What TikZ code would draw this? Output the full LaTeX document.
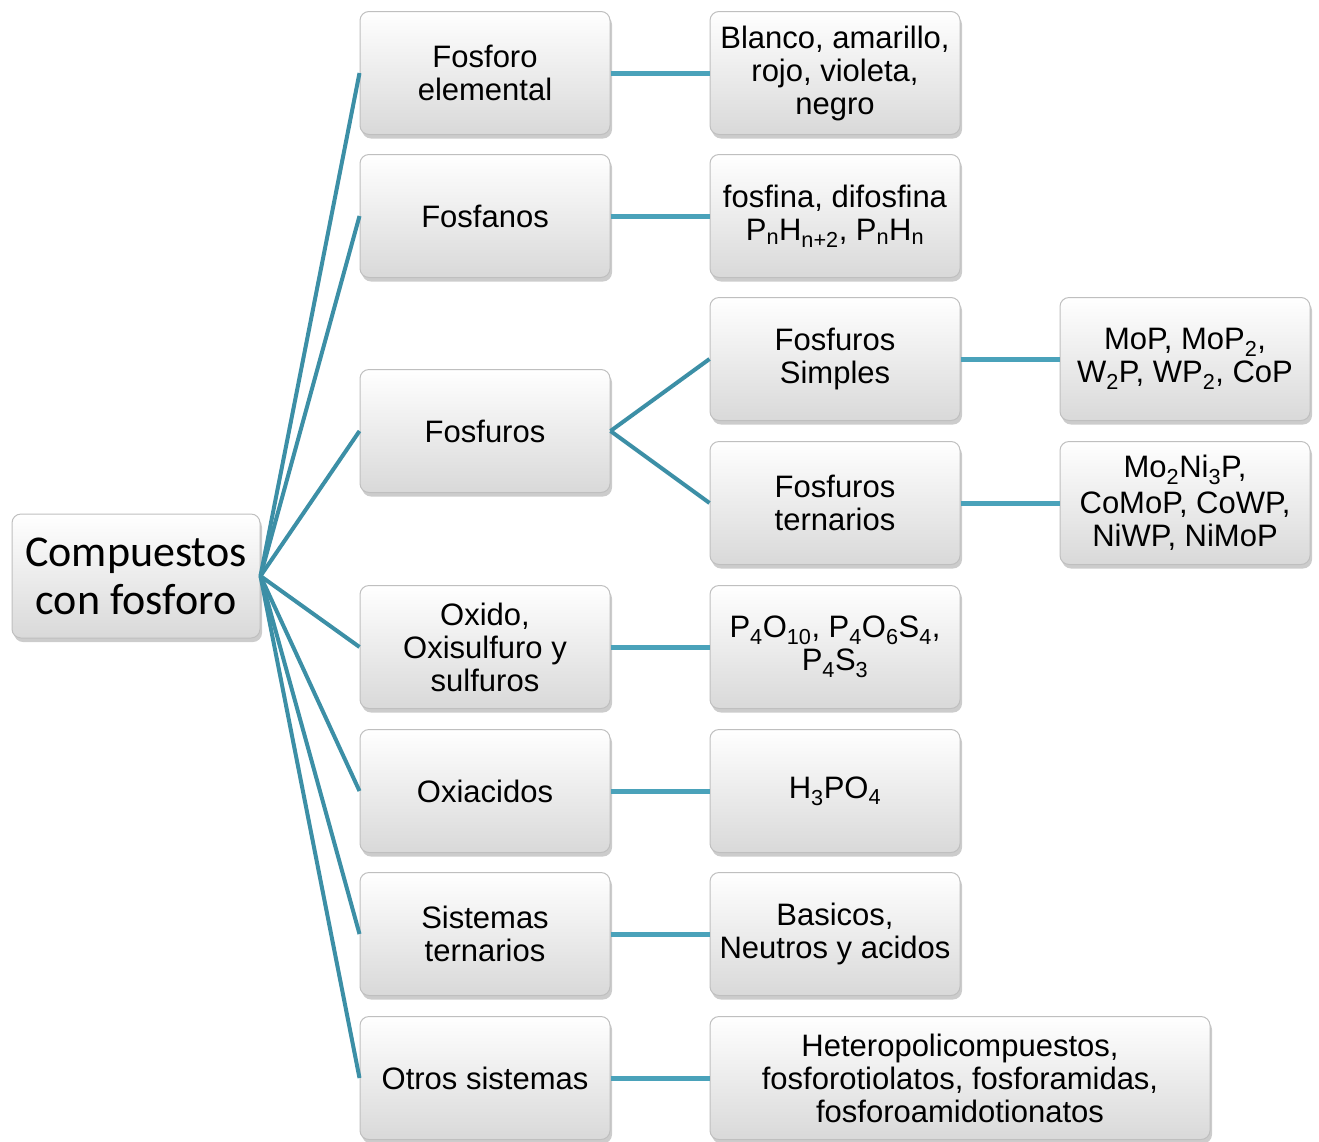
\documentclass[tikz,border=0pt]{standalone}
\usepackage{fontspec}
\setmainfont{Liberation Sans}
\newfontfamily\rootfont{Carlito}
\usetikzlibrary{shadows}
\definecolor{linkteal}{HTML}{4AA2BA}
\definecolor{rootteal}{HTML}{3C8FA6}
\definecolor{boxedge}{HTML}{BFBFBF}
\tikzset{
  box/.style={draw=boxedge, line width=1pt, rounded corners=9pt,
    top color=white, bottom color=gray!30,
    minimum width=250pt, minimum height=123pt, inner sep=2pt,
    align=center, font=\fontsize{31}{33}\selectfont,
    drop shadow={shadow xshift=2pt, shadow yshift=-4pt, opacity=0.4}},
  link/.style={draw=linkteal, line width=5pt},
  rootlink/.style={draw=rootteal, line width=4pt}
}
\begin{document}
\begin{tikzpicture}[x=1pt,y=-1pt]
  \useasboundingbox (0,0) rectangle (1319,1141);
  % root
  \node[box, minimum width=248pt, minimum height=124pt,
        font=\rootfont\fontsize{44}{48}\selectfont] (root) at (136,576) {Compuestos\\con fosforo};
  % second column
  \node[box] (elem) at (485,73) {Fosforo\\elemental};
  \node[box] (fosfa) at (485,216) {Fosfanos};
  \node[box] (fosfu) at (485,431) {Fosfuros};
  \node[box] (oxido) at (485,647) {Oxido,\\Oxisulfuro y\\sulfuros};
  \node[box] (oxiac) at (485,791) {Oxiacidos};
  \node[box] (sister) at (485,934) {Sistemas\\ternarios};
  \node[box] (otros) at (485,1078) {Otros sistemas};
  % third column
  \node[box] (alotr) at (835,73) {Blanco, amarillo,\\rojo, violeta,\\negro};
  \node[box] (fosfi) at (835,216) {fosfina, difosfina\\P\textsubscript{n}H\textsubscript{n+2}, P\textsubscript{n}H\textsubscript{n}};
  \node[box] (simp) at (835,359) {Fosfuros\\Simples};
  \node[box] (tern) at (835,503) {Fosfuros\\ternarios};
  \node[box] (poxs) at (835,647) {P\textsubscript{4}O\textsubscript{10}, P\textsubscript{4}O\textsubscript{6}S\textsubscript{4},\\P\textsubscript{4}S\textsubscript{3}};
  \node[box] (hpo) at (835,791) {H\textsubscript{3}PO\textsubscript{4}};
  \node[box] (basic) at (835,934) {Basicos,\\Neutros y acidos};
  \node[box, minimum width=500pt] (hetero) at (960,1078) {Heteropolicompuestos,\\fosforotiolatos, fosforamidas,\\fosforoamidotionatos};
  % fourth column
  \node[box] (mop) at (1185,359) {MoP, MoP\textsubscript{2},\\W\textsubscript{2}P, WP\textsubscript{2}, CoP};
  \node[box] (moni) at (1185,503) {Mo\textsubscript{2}Ni\textsubscript{3}P,\\[3pt]CoMoP, CoWP,\\NiWP, NiMoP};
  % connectors
  \foreach \n in {elem,fosfa,fosfu,oxido,oxiac,sister,otros}
    \draw[rootlink] (root.east) -- (\n.west);
  \draw[link] (elem) -- (alotr);
  \draw[link] (fosfa) -- (fosfi);
  \draw[rootlink] (fosfu.east) -- (simp.west);
  \draw[rootlink] (fosfu.east) -- (tern.west);
  \draw[link] (oxido) -- (poxs);
  \draw[link] (oxiac) -- (hpo);
  \draw[link] (sister) -- (basic);
  \draw[link] (otros) -- (hetero);
  \draw[link] (simp) -- (mop);
  \draw[link] (tern) -- (moni);
\end{tikzpicture}
\end{document}
